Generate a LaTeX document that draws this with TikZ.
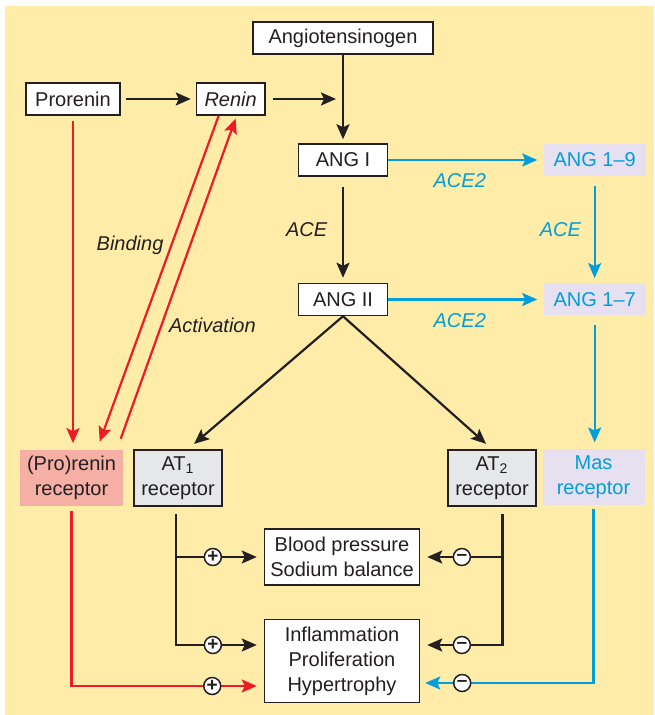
\documentclass[tikz,border=0pt]{standalone}
\usepackage{fontspec}
\setmainfont{Liberation Sans}
\usetikzlibrary{arrows.meta, positioning}

\definecolor{bgyellow}{RGB}{254,236,168}
\definecolor{inkblack}{RGB}{35,31,32}
\definecolor{rasred}{RGB}{237,28,36}
\definecolor{rasblue}{RGB}{0,158,219}
\definecolor{lavender}{RGB}{230,224,240}
\definecolor{pinkfill}{RGB}{245,175,165}
\definecolor{boxgray}{RGB}{230,231,232}

\begin{document}
\begin{tikzpicture}[
    x=0.5pt, y=-0.5pt,
    every node/.style={
            font=\fontsize{10}{12.5}\selectfont,
            text=inkblack
        },
    box/.style={
            draw=inkblack,
            line width=0.75pt,
            fill=white,
            inner xsep=4pt,
            minimum height=16pt,
            align=center
        },
    ang_box/.style={box, minimum width=44.5pt},
    blue_box/.style={
            fill=lavender,
            text=rasblue,
            minimum width=51pt,
            minimum height=16pt,
            align=center
        },
    receptor/.style={box, inner xsep=2.5pt, minimum width=44pt, minimum height=27pt, fill=boxgray},
    outcome/.style={box, inner xsep=2.5pt, minimum width=77.5pt},
    enzyme/.style={font=\fontsize{10}{12.5}\selectfont\itshape},
    arrow/.style={
            draw=inkblack,
            line width=1.1pt,
            -{Stealth[length=7.5pt, width=6.5pt, inset=1.5pt]}
        },
    red_arrow/.style={arrow, draw=rasred},
    blue_arrow/.style={arrow, draw=rasblue},
    sign/.style={
            circle,
            draw=inkblack,
            line width=0.75pt,
            fill=white,
            inner sep=0pt,
            minimum size=8.5pt,
            font=\fontsize{9.5}{9.5}\selectfont\bfseries
        }
    ]

    \fill[bgyellow] (5,6) rectangle (654,715);
    \useasboundingbox (0,0) rectangle (654,715);

    % --- Cascade ---
    \node (angio) [box, minimum width=90pt] at (343,38) {Angiotensinogen};
    \node (prorenin) [box, minimum width=47pt] at (73,99) {Prorenin};
    \node (renin) [box, right=37.5pt of prorenin] {\itshape Renin};
    \node (ang1) [ang_box] at (343,160) {ANG I};
    \node (ang2) [ang_box, below=53pt of ang1] {ANG II};
    \node (ang19) [blue_box, right=77.5pt of ang1] {ANG 1--9};
    \node (ang17) [blue_box, right=77.5pt of ang2] {ANG 1--7};

    % --- Receptors ---
    \node (prr) [fill=pinkfill, minimum width=51.5pt, minimum height=27pt, align=center] at (71.5,478) {(Pro)renin\\receptor};
    \node (at1) [receptor] at (178,478) {AT\textsubscript{1}\\receptor};
    \node (at2) [receptor] at (492,478) {AT\textsubscript{2}\\receptor};
    \node (mas) [blue_box, minimum height=28pt] at (593.5,477) {Mas\\receptor};

    % --- Effects ---
    \node (bp) [outcome, minimum height=28pt] at (342,557) {Blood pressure\\Sodium balance};
    \node (infl) [outcome, minimum height=41.5pt] at (342,661) {Inflammation\\Proliferation\\Hypertrophy};

    % --- Arrows ---
    \draw[arrow, shorten <=2.5pt, shorten >=2.5pt] (prorenin) -- (renin);
    \draw[arrow, shorten <=3.5pt, shorten >=3.5pt] (renin.east) -- (renin.east -| angio.south);
    \draw[arrow, shorten >=2pt] (angio) -- (ang1);
    \draw[arrow, shorten <=5pt, shorten >=2.5pt] (ang1) -- node[enzyme, left=4pt] {ACE} (ang2);
    \draw[blue_arrow, shorten >=3pt] (ang1) -- node[enzyme, text=rasblue, below=3pt, xshift=-3pt] {ACE2} (ang19);
    \draw[blue_arrow, shorten >=3pt] (ang2) -- node[enzyme, text=rasblue, below=3pt, xshift=-3pt] {ACE2} (ang17);
    \draw[blue_arrow, shorten <=5pt, shorten >=2.5pt] (ang19) -- node[enzyme, text=rasblue, left=3pt] {ACE} (ang17);
    \draw[blue_arrow, shorten <=4.5pt, shorten >=3pt] (ang17.south) -- (ang17.south |- mas.north);
    \draw[arrow, shorten >=4pt] (ang2.south) -- ([xshift=5pt]at1.north);
    \draw[arrow, shorten >=4pt] (ang2.south) -- (at2.north);

    % --- (Pro)renin receptor ---
    \draw[red_arrow, shorten <=2.5pt, shorten >=3pt] (prorenin.south) -- (prorenin.south |- prr.north);
    \draw[red_arrow, shorten >=4pt] ([xshift=-6pt]renin.south) -- node[enzyme, left, pos=0.39] {Binding} ([xshift=12.75pt]prr.north);
    \draw[red_arrow, shorten <=5.5pt, shorten >=1.5pt] ([xshift=22.75pt]prr.north) -- node[enzyme, right, pos=0.37] {Activation} ([xshift=3pt]renin.south);

    % --- Effects of the receptors ---
    \coordinate (at1_trunk) at ([xshift=-1pt]at1.south);
    \coordinate (at2_trunk) at ([xshift=5.25pt]at2.south);
    \draw[arrow, shorten <=3.5pt, shorten >=3.5pt] (at1_trunk) |- ([yshift=8pt]infl.west) node[sign, pos=0.71] {+};
    \draw[arrow, shorten >=3.5pt] (at1_trunk |- bp.west) -- node[sign, pos=0.42] {+} (bp.west);
    \draw[arrow, shorten <=3.5pt, shorten >=3.5pt] (at2_trunk) |- ([yshift=8pt]infl.east) node[sign, pos=0.747] {\raisebox{-0.6pt}{–}};
    \draw[arrow, shorten >=3.5pt] (at2_trunk |- bp.east) -- node[sign, pos=0.494] {\raisebox{-0.6pt}{–}} (bp.east);
    \draw[red_arrow, shorten <=2pt, shorten >=3.5pt] (prr.south) |- ([yshift=-12.5pt]infl.west) node[sign, pos=0.866] {+};
    \draw[blue_arrow, shorten <=1.5pt, shorten >=2.5pt] (mas.south) |- ([yshift=-11pt]infl.east) node[sign, pos=0.879] {\raisebox{-0.6pt}{–}};

\end{tikzpicture}
\end{document}
